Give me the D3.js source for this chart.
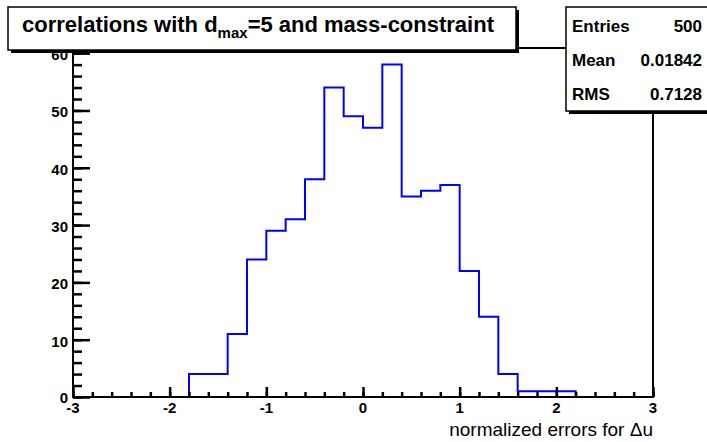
<!DOCTYPE html>
<html>
<head>
<meta charset="utf-8">
<script src="https://cdn.jsdelivr.net/npm/d3@7"></script>
<style>
  body { margin: 0; background: #fff; }
  svg { font-family: "Liberation Sans", Arial, Helvetica, sans-serif; }
  .t_tick { font-size: 15px; font-weight: bold; }
  .t_title { font-size: 22px; font-weight: bold; }
  .t_stat { font-size: 17px; font-weight: bold; }
  .t_axis { font-size: 19px; }
  .ax path { display: none; }
  .ax line { stroke: #000; stroke-width: 2.5; }
</style>
</head>
<body>
<svg width="707" height="442"></svg>
<script>
/* ----------------------------------------------------------
data
---------------------------------------------------------- */

var binEdges = [-3, -2.8, -2.6, -2.4, -2.2, -2, -1.8, -1.6, -1.4, -1.2, -1, -0.8, -0.6, -0.4, -0.2,
  0, 0.2, 0.4, 0.6, 0.8, 1, 1.2, 1.4, 1.6, 1.8, 2, 2.2, 2.4, 2.6, 2.8, 3];
var counts = [0, 0, 0, 0, 0, 0, 4, 4, 11, 24, 29, 31, 38, 54, 49,
  47, 58, 35, 36, 37, 22, 14, 4, 1, 1, 1, 0, 0, 0, 0];
var xTicks = [-3, -2, -1, 0, 1, 2, 3];
var yTicks = [0, 10, 20, 30, 40, 50, 60];
var stats = [["Entries", "500"], ["Mean", "0.01842"], ["RMS", "0.7128"]];
var title = "correlations with d";
var xTitle = "normalized errors for \u0394u";

/* ----------------------------------------------------------
prepare
---------------------------------------------------------- */

var svg = d3.select("svg");
var frame = { left: 73, right: 653, top: 48, bottom: 397 };

var x = d3.scaleLinear().domain([-3, 3]).range([frame.left, frame.right]);
var y = d3.scaleLinear().domain([0, 60.9]).range([frame.bottom, frame.top]);

// histogram step line
var pts = [[binEdges[0], 0]];
counts.forEach(function (c, i) {
  pts.push([binEdges[i], c]);
  pts.push([binEdges[i + 1], c]);
});
pts.push([binEdges[binEdges.length - 1], 0]);

svg.append("path")
  .attr("d", d3.line().x(d => x(d[0])).y(d => y(d[1]))(pts))
  .attr("fill", "none")
  .attr("stroke", "#0000ff")
  .attr("stroke-width", 2);

// frame
svg.append("rect")
  .attr("x", frame.left).attr("y", frame.top)
  .attr("width", frame.right - frame.left).attr("height", frame.bottom - frame.top)
  .attr("fill", "none").attr("stroke", "#000").attr("stroke-width", 2);

// tick labels
svg.append("g").selectAll("text").data(xTicks).enter().append("text")
  .attr("class", "t_tick")
  .attr("x", d => x(d)).attr("y", 413)
  .attr("text-anchor", "middle")
  .text(d => d);

svg.append("g").selectAll("text").data(yTicks).enter().append("text")
  .attr("class", "t_tick")
  .attr("x", 68).attr("y", d => y(d) + (d === 0 ? 6 : 7))
  .attr("text-anchor", "end")
  .text(d => d);

// axis title
svg.append("text").attr("class", "t_axis")
  .attr("x", frame.right).attr("y", 436)
  .attr("text-anchor", "end")
  .text(xTitle);

// title box
var tb = svg.append("g");
tb.append("rect").attr("x", 11).attr("y", 10).attr("width", 508).attr("height", 43).attr("fill", "#000");
tb.append("rect").attr("x", 8).attr("y", 7).attr("width", 508).attr("height", 43)
  .attr("fill", "#fff").attr("stroke", "#000").attr("stroke-width", 1.5);
var tt = tb.append("text").attr("class", "t_title").attr("x", 22).attr("y", 32);
tt.append("tspan").text(title);
tt.append("tspan").attr("font-size", "15px").attr("dy", 6).text("max");
tt.append("tspan").attr("dy", -6).text("=5 and mass-constraint");

// stats box
var sb = svg.append("g");
sb.append("rect").attr("x", 569).attr("y", 10).attr("width", 142).attr("height", 104).attr("fill", "#000");
sb.append("rect").attr("x", 566).attr("y", 7).attr("width", 142).attr("height", 104)
  .attr("fill", "#fff").attr("stroke", "#000").attr("stroke-width", 1.5);
stats.forEach(function (s, i) {
  sb.append("text").attr("class", "t_stat").attr("x", 572).attr("y", 32 + i * 34).text(s[0]);
  sb.append("text").attr("class", "t_stat").attr("x", 702).attr("y", 32 + i * 34)
    .attr("text-anchor", "end").text(s[1]);
});

// ticks (inside the frame), drawn last
var xMinor = d3.range(0, 31).map(i => -3 + i * 0.2);
var yMinor = d3.range(0, 31).map(i => i * 2);

svg.append("g").attr("class", "ax").attr("transform", "translate(0," + frame.bottom + ")")
  .call(d3.axisBottom(x).tickValues(xMinor).tickSize(-5).tickFormat(""));
svg.append("g").attr("class", "ax").attr("transform", "translate(0," + frame.bottom + ")")
  .call(d3.axisBottom(x).tickValues(xTicks).tickSize(-10).tickFormat(""));
svg.append("g").attr("class", "ax").attr("transform", "translate(" + frame.left + ",0)")
  .call(d3.axisLeft(y).tickValues(yMinor).tickSize(-9).tickFormat(""));
svg.append("g").attr("class", "ax").attr("transform", "translate(" + frame.left + ",0)")
  .call(d3.axisLeft(y).tickValues(yTicks).tickSize(-17).tickFormat(""));
</script>
</body>
</html>
